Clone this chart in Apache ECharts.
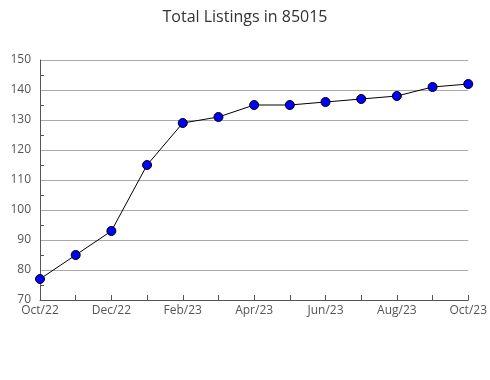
<!DOCTYPE html>
<html><head><meta charset="utf-8">
<script src="https://cdn.jsdelivr.net/npm/echarts@6/dist/echarts.min.js"></script>
<style>html,body{margin:0;padding:0;background:#fff}#c{width:490px;height:380px}</style>
</head><body><div id="c"></div>
<script>
const categories = ['Oct/22','Nov/22','Dec/22','Jan/23','Feb/23','Mar/23','Apr/23','May/23','Jun/23','Jul/23','Aug/23','Sep/23','Oct/23'];
const listings = [77, 85, 93, 115, 129, 131, 135, 135, 136, 137, 138, 141, 142];
const titleText = 'Total Listings in 85015';
const chart = echarts.init(document.getElementById('c'));
chart.setOption({
  animation: false,
  backgroundColor: '#fff',
  textStyle: { fontFamily: 'Open Sans' },
  title: { text: titleText, left: 'center', top: 4,
    textStyle: { fontFamily: 'Open Sans', fontWeight: 'normal', fontSize: 16, color: '#333' } },
  grid: { left: 40, right: 19, top: 60, bottom: 80, containLabel: false },
  xAxis: {
    type: 'category', data: categories, boundaryGap: false,
    axisLine: { lineStyle: { color: '#555', width: 1 } },
    axisTick: { inside: true, length: 5, lineStyle: { color: '#555' }, interval: 0 },
    axisLabel: { color: '#555', fontSize: 12, interval: 1, margin: 5 },
    splitLine: { show: false }
  },
  yAxis: {
    type: 'value', min: 70, max: 150, interval: 10,
    axisLine: { show: true, lineStyle: { color: '#555', width: 1 } },
    axisTick: { show: false, inside: true },
    minorTick: { show: true, splitNumber: 2, length: 4, lineStyle: { color: '#555' } },
    axisLabel: { color: '#555', fontSize: 12, margin: 9 },
    splitLine: { lineStyle: { color: '#aaa', width: 1 } }
  },
  series: [{
    type: 'line', data: listings, symbol: 'circle', symbolSize: 9,
    lineStyle: { color: '#000', width: 1 },
    itemStyle: { color: '#0000ff', borderColor: '#000', borderWidth: 1 }
  }]
});
</script></body></html>
